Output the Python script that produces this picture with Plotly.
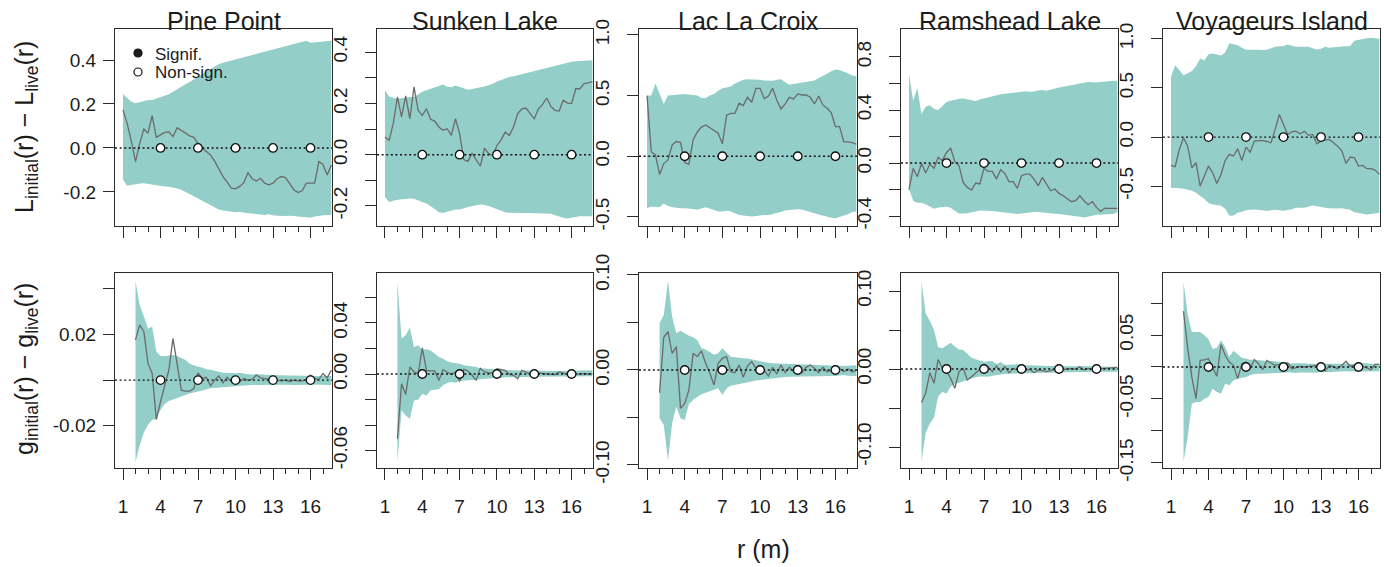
import plotly.graph_objects as go

# ---------------- data ----------------
SITES = ["Pine Point", "Sunken Lake", "Lac La Croix", "Ramshead Lake", "Voyageurs Island"]

R_L = [1, 1.333, 1.667, 2, 2.333, 2.667, 3, 3.333, 3.667, 4, 4.333, 4.667, 5, 5.333, 5.667,
       6, 6.333, 6.667, 7, 7.333, 7.667, 8, 8.333, 8.667, 9, 9.333, 9.667, 10, 10.333, 10.667,
       11, 11.333, 11.667, 12, 12.333, 12.667, 13, 13.333, 13.667, 14, 14.333, 14.667, 15,
       15.333, 15.667, 16, 16.333, 16.667, 17, 17.333, 17.667]
R_G = R_L[3:]

TEST_R = [4, 7, 10, 13, 16]
TEST_Y = [0.0, 0.0, 0.0, 0.0, 0.0]

# --- L(r) differences (top row) ---
PP_L_UP = [0.244,0.228,0.21,0.203,0.208,0.214,0.218,0.218,0.225,0.233,0.238,0.244,0.256,0.268,0.28,0.29,0.30,0.312,0.325,0.335,0.348,0.36,0.372,0.382,0.388,0.393,0.398,0.40,0.405,0.41,0.415,0.42,0.425,0.43,0.435,0.44,0.445,0.45,0.455,0.46,0.465,0.47,0.475,0.48,0.488,0.478,0.48,0.483,0.486,0.487,0.488]
PP_L_LO = [-0.145,-0.172,-0.17,-0.165,-0.162,-0.16,-0.163,-0.167,-0.17,-0.172,-0.175,-0.177,-0.18,-0.185,-0.19,-0.2,-0.21,-0.22,-0.23,-0.24,-0.25,-0.26,-0.27,-0.28,-0.285,-0.29,-0.29,-0.292,-0.29,-0.295,-0.297,-0.298,-0.3,-0.302,-0.305,-0.302,-0.306,-0.308,-0.31,-0.31,-0.308,-0.31,-0.312,-0.315,-0.315,-0.318,-0.312,-0.31,-0.306,-0.305,-0.305]
PP_L_OBS = [0.173,0.112,0.03,-0.062,0.02,0.086,0.067,0.147,0.048,0.06,0.071,0.073,0.052,0.092,0.08,0.07,0.055,0.048,0.021,0.0,-0.017,-0.032,-0.06,-0.092,-0.13,-0.155,-0.183,-0.186,-0.175,-0.158,-0.112,-0.14,-0.15,-0.138,-0.16,-0.168,-0.16,-0.14,-0.13,-0.135,-0.16,-0.19,-0.203,-0.195,-0.16,-0.16,-0.16,-0.062,-0.075,-0.123,-0.077]

SL_L_UP = [0.251,0.227,0.222,0.218,0.22,0.223,0.225,0.225,0.236,0.245,0.251,0.257,0.263,0.268,0.274,0.265,0.263,0.27,0.265,0.257,0.253,0.256,0.261,0.263,0.266,0.27,0.277,0.285,0.292,0.297,0.303,0.306,0.31,0.314,0.318,0.322,0.326,0.329,0.334,0.34,0.343,0.348,0.352,0.356,0.36,0.362,0.364,0.365,0.366,0.367,0.368]
SL_L_LO = [-0.165,-0.184,-0.18,-0.176,-0.174,-0.172,-0.171,-0.172,-0.178,-0.184,-0.19,-0.2,-0.212,-0.224,-0.227,-0.222,-0.217,-0.214,-0.214,-0.21,-0.204,-0.2,-0.197,-0.194,-0.196,-0.2,-0.205,-0.21,-0.218,-0.224,-0.226,-0.227,-0.227,-0.227,-0.227,-0.227,-0.227,-0.227,-0.228,-0.229,-0.23,-0.236,-0.242,-0.246,-0.249,-0.247,-0.243,-0.24,-0.24,-0.24,-0.24]
SL_L_OBS = [0.069,0.056,0.121,0.225,0.147,0.229,0.14,0.264,0.173,0.153,0.179,0.138,0.131,0.108,0.095,0.101,0.075,0.14,0.082,-0.019,-0.026,0.006,-0.02,-0.045,0.026,0.004,-0.003,0.036,0.058,0.088,0.075,0.108,0.16,0.179,0.182,0.16,0.14,0.179,0.196,0.221,0.188,0.173,0.17,0.212,0.201,0.199,0.257,0.257,0.277,0.28,0.285]

LLC_L_UP = [0.5,0.5,0.6,0.51,0.43,0.5,0.503,0.505,0.51,0.514,0.51,0.505,0.5,0.48,0.48,0.5,0.514,0.54,0.56,0.567,0.575,0.6,0.615,0.63,0.635,0.635,0.635,0.63,0.624,0.624,0.622,0.63,0.635,0.61,0.59,0.595,0.6,0.605,0.61,0.615,0.625,0.645,0.66,0.68,0.7,0.715,0.712,0.7,0.685,0.665,0.662]
LLC_L_LO = [-0.429,-0.415,-0.42,-0.42,-0.39,-0.41,-0.42,-0.425,-0.428,-0.429,-0.43,-0.435,-0.442,-0.43,-0.42,-0.43,-0.445,-0.455,-0.456,-0.45,-0.455,-0.47,-0.485,-0.492,-0.495,-0.497,-0.493,-0.486,-0.484,-0.484,-0.48,-0.47,-0.46,-0.448,-0.445,-0.44,-0.437,-0.44,-0.45,-0.46,-0.47,-0.48,-0.49,-0.5,-0.507,-0.511,-0.505,-0.49,-0.478,-0.46,-0.456]
LLC_L_OBS = [0.5,0.038,0.011,-0.15,-0.06,-0.03,0.093,0.121,0.113,-0.052,-0.066,0.135,0.2,0.24,0.258,0.235,0.209,0.19,0.102,0.338,0.354,0.354,0.437,0.418,0.486,0.445,0.56,0.56,0.475,0.497,0.56,0.464,0.39,0.431,0.486,0.472,0.514,0.505,0.505,0.486,0.431,0.497,0.423,0.396,0.36,0.245,0.245,0.121,0.118,0.112,0.099]

RL_L_UP = [0.667,0.47,0.566,0.37,0.425,0.435,0.41,0.4,0.43,0.46,0.47,0.478,0.485,0.487,0.48,0.472,0.468,0.48,0.488,0.495,0.503,0.512,0.518,0.522,0.525,0.53,0.533,0.538,0.541,0.538,0.54,0.548,0.551,0.546,0.555,0.566,0.57,0.575,0.58,0.585,0.59,0.598,0.605,0.612,0.61,0.608,0.612,0.616,0.62,0.621,0.621]
RL_L_LO = [-0.196,-0.284,-0.3,-0.3,-0.31,-0.325,-0.345,-0.335,-0.33,-0.33,-0.338,-0.36,-0.38,-0.38,-0.378,-0.372,-0.365,-0.358,-0.355,-0.36,-0.362,-0.365,-0.368,-0.37,-0.375,-0.38,-0.385,-0.38,-0.375,-0.372,-0.37,-0.37,-0.37,-0.372,-0.38,-0.383,-0.385,-0.386,-0.39,-0.395,-0.4,-0.405,-0.41,-0.403,-0.398,-0.39,-0.387,-0.386,-0.386,-0.384,-0.372]
RL_L_OBS = [-0.201,-0.04,-0.103,-0.003,-0.075,-0.008,-0.04,0.043,0.018,0.08,0.111,0.01,-0.02,-0.146,-0.184,-0.204,-0.151,-0.158,-0.04,-0.063,-0.063,-0.121,-0.05,-0.078,-0.141,-0.141,-0.191,-0.096,-0.083,-0.083,-0.121,-0.171,-0.108,-0.158,-0.209,-0.196,-0.229,-0.247,-0.272,-0.292,-0.284,-0.247,-0.284,-0.314,-0.292,-0.335,-0.365,-0.34,-0.342,-0.34,-0.342]

VI_L_UP = [0.614,0.73,0.68,0.63,0.65,0.672,0.72,0.8,0.78,0.842,0.85,0.842,0.83,0.86,0.955,0.945,0.935,0.91,0.89,0.89,0.892,0.89,0.886,0.89,0.905,0.92,0.925,0.928,0.943,0.935,0.92,0.92,0.92,0.92,0.905,0.892,0.9,0.92,0.909,0.915,0.92,0.922,0.924,0.926,0.98,0.99,1.0,1.005,1.011,1.005,1.0]
VI_L_LO = [-0.516,-0.518,-0.52,-0.525,-0.533,-0.545,-0.567,-0.6,-0.628,-0.67,-0.686,-0.69,-0.7,-0.73,-0.8,-0.797,-0.77,-0.76,-0.745,-0.74,-0.736,-0.74,-0.745,-0.753,-0.745,-0.74,-0.745,-0.75,-0.745,-0.735,-0.72,-0.719,-0.719,-0.71,-0.696,-0.705,-0.715,-0.72,-0.725,-0.73,-0.728,-0.725,-0.73,-0.74,-0.765,-0.772,-0.78,-0.787,-0.783,-0.777,-0.77]
VI_L_OBS = [-0.288,-0.302,-0.126,-0.007,-0.092,-0.312,-0.261,-0.499,-0.397,-0.295,-0.363,-0.472,-0.38,-0.238,-0.176,-0.193,-0.119,-0.238,-0.102,-0.153,-0.041,-0.034,-0.034,-0.045,-0.058,0.078,0.231,0.129,0.027,0.054,0.061,0.034,0.058,0.017,0.027,-0.068,-0.041,-0.031,-0.024,-0.058,-0.092,-0.143,-0.268,-0.204,-0.21,-0.295,-0.288,-0.322,-0.322,-0.336,-0.38]

# --- g(r) differences (bottom row) ---
PP_G_UP = [0.0433,0.033,0.028,0.0225,0.0235,0.0125,0.0106,0.0104,0.0108,0.011,0.0105,0.0095,0.0088,0.0072,0.0065,0.0058,0.0055,0.0048,0.0045,0.0042,0.0036,0.0032,0.0031,0.003,0.003,0.0032,0.0028,0.0026,0.0025,0.0026,0.0026,0.0023,0.0022,0.0021,0.002,0.0019,0.0019,0.002,0.002,0.0019,0.0018,0.0018,0.0018,0.0018,0.0018,0.0018,0.0018,0.0018]
PP_G_LO = [-0.0359,-0.0286,-0.023,-0.0196,-0.0175,-0.0169,-0.013,-0.0105,-0.0092,-0.0085,-0.0077,-0.0072,-0.0065,-0.0059,-0.0056,-0.005,-0.0045,-0.0041,-0.0036,-0.0033,-0.0032,-0.003,-0.003,-0.0028,-0.0027,-0.0025,-0.0023,-0.0022,-0.0022,-0.0021,-0.002,-0.0019,-0.0018,-0.0018,-0.0019,-0.0019,-0.002,-0.002,-0.0021,-0.0021,-0.0021,-0.002,-0.0019,-0.0018,-0.0019,-0.002,-0.0021,-0.0022]
PP_G_OBS = [0.0176,0.0242,0.0213,0.0073,0.0029,-0.0173,-0.0095,-0.0029,0.0044,0.0183,0.0073,-0.0044,-0.0048,-0.0048,-0.0037,0.0032,0.0007,0.0012,-0.0025,0.0,0.0018,-0.0012,0.0012,-0.0007,-0.0015,-0.0007,0.0007,0.0,0.0003,0.0022,0.001,0.0007,0.0003,0.001,0.0,-0.0003,0.0,-0.0006,0.0,-0.0003,-0.0003,0.0003,0.0022,0.0007,0.0003,0.0029,0.001,0.0044]

SL_G_UP = [0.0723,0.0278,0.0304,0.0364,0.0212,0.0225,0.0191,0.0195,0.0185,0.016,0.0134,0.012,0.01,0.009,0.0088,0.0081,0.0068,0.0065,0.006,0.0055,0.0045,0.0042,0.004,0.0038,0.0036,0.0034,0.0031,0.003,0.0029,0.0029,0.0028,0.0027,0.0026,0.0025,0.0024,0.0024,0.0024,0.0024,0.0024,0.0024,0.0024,0.0025,0.0026,0.0027,0.0028,0.0028,0.0029,0.0029]
SL_G_LO = [-0.0692,-0.0286,-0.0325,-0.0351,-0.0207,-0.0202,-0.0155,-0.0168,-0.0128,-0.0125,-0.012,-0.0089,-0.007,-0.0063,-0.0068,-0.0055,-0.0055,-0.0052,-0.0048,-0.0045,-0.0042,-0.0037,-0.0035,-0.0032,-0.003,-0.0029,-0.0026,-0.0025,-0.0024,-0.0024,-0.0023,-0.0023,-0.0021,-0.002,-0.0019,-0.0018,-0.0018,-0.0018,-0.0017,-0.0017,-0.0016,-0.0017,-0.0018,-0.0018,-0.0018,-0.0018,-0.0018,-0.0018]
SL_G_OBS = [-0.0508,-0.0076,-0.016,0.0055,0.0016,0.0003,0.0204,0.0029,0.0024,0.0024,-0.005,0.0034,0.0016,-0.0003,0.0016,-0.0058,0.0037,0.0024,-0.001,-0.005,0.0045,0.0016,0.001,0.0008,0.0042,0.0034,0.0029,-0.0003,-0.001,-0.0037,0.0029,0.0016,-0.0003,0.001,0.0008,0.0003,0.0003,-0.0003,-0.0005,0.0016,0.0008,-0.0003,0.0008,-0.0003,0.0003,0.0003,0.0,0.0]

LLC_G_UP = [0.0491,0.0579,0.094,0.0561,0.0386,0.0414,0.0386,0.036,0.0344,0.0316,0.0228,0.0215,0.019,0.016,0.0175,0.0228,0.0185,0.014,0.0133,0.0125,0.0123,0.012,0.011,0.0098,0.009,0.0082,0.0075,0.0072,0.007,0.0068,0.007,0.007,0.0068,0.0066,0.0063,0.006,0.0055,0.0053,0.0053,0.0049,0.0049,0.0046,0.0046,0.0045,0.0042,0.0045,0.005,0.005]
LLC_G_LO = [-0.0509,-0.0579,-0.0954,-0.0561,-0.0386,-0.0509,-0.0526,-0.0358,-0.0316,-0.0285,-0.0255,-0.024,-0.0228,-0.021,-0.0193,-0.0263,-0.0195,-0.0165,-0.0155,-0.0145,-0.0135,-0.013,-0.012,-0.011,-0.0098,-0.0095,-0.009,-0.0088,-0.0085,-0.008,-0.0075,-0.007,-0.007,-0.007,-0.0068,-0.0065,-0.0063,-0.0063,-0.0063,-0.0063,-0.0063,-0.0063,-0.0063,-0.006,-0.0053,-0.006,-0.0063,-0.0063]
LLC_G_OBS = [-0.0239,0.0344,0.0404,0.0175,0.0246,-0.0404,-0.0351,-0.0211,0.0175,0.014,0.02,0.007,-0.0035,-0.0158,0.007,0.0123,0.014,-0.0018,-0.0028,0.0053,-0.0077,0.0042,0.0088,0.0018,-0.0035,-0.0007,-0.0063,0.0028,-0.0042,0.0053,-0.0028,0.0028,-0.0018,0.0018,-0.0028,0.0028,0.0053,0.0018,-0.0028,0.0028,-0.0018,-0.0007,-0.0018,0.0018,-0.0018,0.001,-0.0018,-0.0005]

RL_G_UP = [0.1115,0.0711,0.062,0.05,0.028,0.0265,0.03,0.0336,0.029,0.025,0.0243,0.019,0.0145,0.0125,0.011,0.0094,0.01,0.0103,0.0064,0.009,0.0051,0.0055,0.0064,0.006,0.0051,0.0051,0.005,0.0048,0.0045,0.0042,0.004,0.0038,0.0038,0.0036,0.0034,0.0034,0.0034,0.0036,0.0038,0.0036,0.0034,0.003,0.003,0.003,0.003,0.003,0.003,0.003]
RL_G_LO = [-0.1183,-0.082,-0.07,-0.062,-0.035,-0.0295,-0.0315,-0.0225,-0.019,-0.0175,-0.0162,-0.0145,-0.0125,-0.0105,-0.0095,-0.0092,-0.0098,-0.0085,-0.0077,-0.007,-0.0065,-0.006,-0.0055,-0.0052,-0.005,-0.005,-0.0048,-0.0048,-0.0047,-0.0047,-0.0046,-0.0046,-0.0045,-0.0044,-0.0043,-0.0042,-0.004,-0.0039,-0.0038,-0.0038,-0.0038,-0.0038,-0.0038,-0.0037,-0.0036,-0.0035,-0.0034,-0.0034]
RL_G_OBS = [-0.043,-0.031,-0.0047,-0.0183,0.0123,0.0009,-0.003,-0.012,-0.0247,-0.0034,0.0009,-0.014,-0.0098,-0.0055,-0.0004,0.0051,0.003,-0.0034,0.0038,-0.0034,0.003,-0.0047,0.0009,-0.0013,0.0009,-0.0021,-0.0004,-0.0047,-0.0013,-0.0021,-0.0034,-0.0021,-0.0004,-0.0013,0.0,-0.0004,0.0009,-0.0004,0.003,-0.0013,0.0009,-0.0004,0.0,0.0009,0.0017,0.0021,0.0021,0.0021]

VI_G_UP = [0.133,0.083,0.0548,0.055,0.0548,0.0496,0.0435,0.028,0.03,0.0418,0.0313,0.016,0.0255,0.02,0.0145,0.013,0.0115,0.0115,0.0105,0.0094,0.0094,0.0099,0.009,0.0078,0.0065,0.0055,0.0055,0.0058,0.0062,0.0058,0.0052,0.0052,0.0052,0.0052,0.0052,0.0052,0.0052,0.005,0.0045,0.0042,0.0045,0.0052,0.006,0.0062,0.0058,0.0052,0.0052,0.0052]
VI_G_LO = [-0.1487,-0.1096,-0.0574,-0.0548,-0.0548,-0.0496,-0.047,-0.034,-0.0391,-0.0418,-0.0261,-0.0287,-0.021,-0.0183,-0.017,-0.0157,-0.013,-0.011,-0.0104,-0.0105,-0.011,-0.01,-0.0094,-0.0094,-0.009,-0.0082,-0.0085,-0.0094,-0.0085,-0.0078,-0.0085,-0.0088,-0.009,-0.008,-0.0078,-0.0078,-0.0075,-0.007,-0.0065,-0.0065,-0.007,-0.0078,-0.0078,-0.0072,-0.0068,-0.0068,-0.0068,-0.0068]
VI_G_OBS = [0.0872,0.03,-0.016,-0.0496,0.0104,0.011,0.013,0.0,-0.0146,0.035,0.0183,0.0078,0.0026,-0.0183,0.005,0.0078,-0.0026,0.0115,0.005,-0.0042,0.0104,0.0063,0.0026,0.0042,0.0026,0.0063,-0.0026,-0.001,0.001,0.0,0.001,0.0026,0.0026,-0.001,-0.0063,0.0026,0.0,-0.0026,0.0026,0.0089,0.001,0.0026,-0.0016,0.001,-0.0016,-0.0042,0.0042,0.004]

# axis scales / ticks
X_RANGE = [0.36, 17.72]
X_MAJOR = [1, 4, 7, 10, 13, 16]
X_MINOR = [2, 3, 5, 6, 8, 9, 11, 12, 14, 15, 17]

L_YRANGES = [[-0.355, 0.541], [-0.278, 0.49], [-0.575, 1.049], [-0.475, 1.011], [-0.905, 1.10]]
G_YRANGES = [[-0.0385, 0.0469], [-0.0737, 0.0792], [-0.1032, 0.1021], [-0.1269, 0.1231], [-0.158, 0.147]]

# labelled y ticks
L_YTICKS = [[-0.2, 0, 0.2, 0.4], [-0.2, 0, 0.2, 0.4], [-0.5, 0, 0.5, 1.0],
            [-0.4, 0, 0.4, 0.8], [-0.5, 0, 0.5, 1.0]]
L_YTEXT = [["-0.2", "0.0", "0.2", "0.4"], ["-0.2", "0.0", "0.2", "0.4"],
           ["-0.5", "0.0", "0.5", "1.0"], ["-0.4", "0.0", "0.4", "0.8"],
           ["-0.5", "0.0", "0.5", "1.0"]]
# unlabelled y ticks
L_YMINOR = [[], [-0.1, 0.1, 0.3], [], [-0.2, 0.2, 0.6], []]

G_YTICKS = [[-0.02, 0.02], [-0.06, 0, 0.04], [-0.1, 0, 0.1], [-0.1, 0, 0.1], [-0.15, -0.05, 0.05]]
G_YTEXT = [["-0.02", "0.02"], ["-0.06", "0.00", "0.04"], ["-0.10", "0.00", "0.10"],
           ["-0.10", "0.00", "0.10"], ["-0.15", "-0.05", "0.05"]]
G_YMINOR = [[0, 0.04], [-0.04, -0.02, 0.02, 0.06], [-0.05, 0.05], [-0.05, 0.05], [-0.1, 0, 0.1]]

L_UP = [PP_L_UP, SL_L_UP, LLC_L_UP, RL_L_UP, VI_L_UP]
L_LO = [PP_L_LO, SL_L_LO, LLC_L_LO, RL_L_LO, VI_L_LO]
L_OBS = [PP_L_OBS, SL_L_OBS, LLC_L_OBS, RL_L_OBS, VI_L_OBS]
G_UP = [PP_G_UP, SL_G_UP, LLC_G_UP, RL_G_UP, VI_G_UP]
G_LO = [PP_G_LO, SL_G_LO, LLC_G_LO, RL_G_LO, VI_G_LO]
G_OBS = [PP_G_OBS, SL_G_OBS, LLC_G_OBS, RL_G_OBS, VI_G_OBS]

# ---------------- style ----------------
W, H = 1384, 567
COL_PX = [(115, 332), (377, 593), (639, 857), (901, 1118), (1163, 1380)]
ROW_PX = [(29, 226), (273, 468)]
TEAL = "#93cfc8"
GREY = "#6b6b6b"
FRAME = "#2b2b2b"
TEXT = "#1c1c1c"
FONT = "Liberation Sans, Arial, Helvetica, sans-serif"

fig = go.Figure()
layout = dict(width=W, height=H, autosize=False,
              margin=dict(l=0, r=0, t=0, b=0, pad=0, autoexpand=False),
              paper_bgcolor="white", plot_bgcolor="white", showlegend=False,
              font=dict(family=FONT, color=TEXT))
annotations = []
shapes = []

for row in range(2):
    for col in range(5):
        k = row * 5 + col
        sfx = "" if k == 0 else str(k + 1)
        xa, ya = "x" + sfx, "y" + sfx
        if row == 0:
            rr, up, lo, obs = R_L, L_UP[col], L_LO[col], L_OBS[col]
            yr, tv, tt, tm = L_YRANGES[col], L_YTICKS[col], L_YTEXT[col], L_YMINOR[col]
        else:
            rr, up, lo, obs = R_G, G_UP[col], G_LO[col], G_OBS[col]
            yr, tv, tt, tm = G_YRANGES[col], G_YTICKS[col], G_YTEXT[col], G_YMINOR[col]
        n_up = min(len(rr), len(up))
        n_lo = min(len(rr), len(lo))
        n_ob = min(len(rr), len(obs))
        env_x = list(rr[:n_up]) + list(rr[:n_lo])[::-1]
        env_y = list(up[:n_up]) + list(lo[:n_lo])[::-1]
        fig.add_trace(go.Scatter(x=env_x, y=env_y, fill="toself", fillcolor=TEAL,
                                 line=dict(width=0), mode="lines", hoverinfo="skip",
                                 xaxis=xa, yaxis=ya))
        fig.add_trace(go.Scatter(x=rr[:n_ob], y=obs[:n_ob], mode="lines",
                                 line=dict(color=GREY, width=1.3), xaxis=xa, yaxis=ya))
        fig.add_trace(go.Scatter(x=X_RANGE, y=[0, 0], mode="lines",
                                 line=dict(color="#111111", width=1.4, dash="2px,2.6px"),
                                 hoverinfo="skip", xaxis=xa, yaxis=ya))
        fig.add_trace(go.Scatter(x=TEST_R, y=TEST_Y, mode="markers",
                                 marker=dict(size=8.5, color="white",
                                             line=dict(color="#111111", width=1.3)),
                                 xaxis=xa, yaxis=ya))

        x0, x1 = COL_PX[col]
        y0, y1 = ROW_PX[row]
        horiz = (col == 0)
        layout["xaxis" + sfx] = dict(
            domain=[x0 / W, x1 / W], range=X_RANGE, anchor=ya, automargin=False,
            tickmode="array", tickvals=X_MAJOR, ticktext=[str(v) for v in X_MAJOR],
            showticklabels=(row == 1), ticks="outside", ticklen=11, tickwidth=1,
            tickcolor=FRAME, showline=True, linecolor=FRAME, linewidth=1.2, mirror=True,
            showgrid=False, zeroline=False, ticklabelstandoff=10,
            tickfont=dict(size=19, color=TEXT, family=FONT),
            minor=dict(tickvals=X_MINOR, ticks="outside", ticklen=5, tickwidth=1,
                       tickcolor=FRAME, showgrid=False))
        layout["yaxis" + sfx] = dict(
            domain=[1 - y1 / H, 1 - y0 / H], range=yr, anchor=xa, automargin=False,
            tickmode="array", tickvals=tv, ticktext=tt,
            tickangle=0 if horiz else -90,
            ticks="outside", ticklen=11, tickwidth=1, tickcolor=FRAME,
            showline=True, linecolor=FRAME, linewidth=1.2, mirror=True,
            showgrid=False, zeroline=False,
            ticklabelstandoff=3 if horiz else 10,
            tickfont=dict(size=19, color=TEXT, family=FONT),
            minor=dict(tickvals=tm, ticks="outside", ticklen=11, tickwidth=1,
                       tickcolor=FRAME, showgrid=False))

        if row == 0:
            annotations.append(dict(text=SITES[col], x=(x0 + x1) / 2 / W, y=1 - 21 / H,
                                    xref="paper", yref="paper", xanchor="center",
                                    yanchor="middle", showarrow=False,
                                    font=dict(size=25, color=TEXT, family=FONT)))

# axis titles
annotations.append(dict(text="L<sub>initial</sub>(r) \u2212 L<sub>live</sub>(r)",
                        x=26 / W, y=1 - 127 / H, xref="paper", yref="paper",
                        xanchor="center", yanchor="middle", textangle=-90, showarrow=False,
                        font=dict(size=25, color=TEXT, family=FONT)))
annotations.append(dict(text="g<sub>initial</sub>(r) \u2212 g<sub>live</sub>(r)",
                        x=26 / W, y=1 - 369 / H, xref="paper", yref="paper",
                        xanchor="center", yanchor="middle", textangle=-90, showarrow=False,
                        font=dict(size=25, color=TEXT, family=FONT)))
annotations.append(dict(text="r (m)", x=763 / W, y=1 - 549 / H, xref="paper", yref="paper",
                        xanchor="center", yanchor="middle", showarrow=False,
                        font=dict(size=25, color=TEXT, family=FONT)))

# legend (symbols + labels) in first panel
LEG_LABELS = ["Signif.", "Non-sign."]
LEG_FILL = ["#1c1c1c", "white"]
LEG_CY = [53, 72]
for lab, fc, cy in zip(LEG_LABELS, LEG_FILL, LEG_CY):
    cx, rad = 138, 4
    shapes.append(dict(type="circle", xref="paper", yref="paper",
                       x0=(cx - rad) / W, x1=(cx + rad) / W,
                       y0=1 - (cy + rad) / H, y1=1 - (cy - rad) / H,
                       fillcolor=fc, line=dict(color="#111111", width=1.2)))
    annotations.append(dict(text=lab, x=153 / W, y=1 - (cy + 1) / H, xref="paper",
                            yref="paper", xanchor="left", yanchor="middle",
                            showarrow=False, font=dict(size=17, color=TEXT, family=FONT)))

layout["annotations"] = annotations
layout["shapes"] = shapes
fig.update_layout(**layout)
fig.write_html("out.html")
